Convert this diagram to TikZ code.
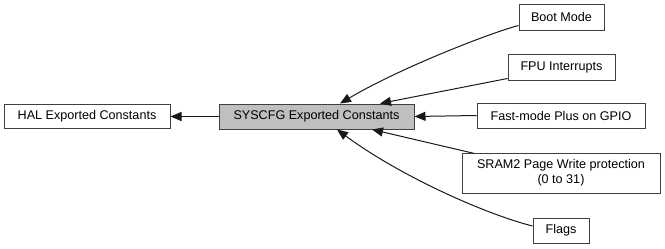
\documentclass[tikz,border=0pt]{standalone}
\usepackage{fontspec}
\setmainfont{Liberation Sans}
\usetikzlibrary{arrows.meta,calc}
\begin{document}
\begin{tikzpicture}[x=1pt,y=-1pt,
  grp/.style={draw=black!75, line width=1pt, fill=white, inner sep=0pt,
    font=\fontsize{12.6}{15}\selectfont, align=center},
  cur/.style={grp, fill=black!25},
  edge/.style={draw=black!90, line width=1pt,
    -{Triangle[length=11pt,width=9pt]}}]
\useasboundingbox (0,0) rectangle (665,249);

% group nodes
\node[grp, minimum width=166pt, minimum height=24pt] (hal) at (87,116.5) {HAL Exported Constants};
\node[cur, minimum width=195pt, minimum height=25pt] (sys) at (316.5,116.5) {SYSCFG Exported Constants};
\node[grp, minimum width=85pt, minimum height=26pt] (boot) at (561.5,17) {Boot Mode};
\node[grp, minimum width=107pt, minimum height=26pt] (fpu) at (561.5,67) {FPU Interrupts};
\node[grp, minimum width=168pt, minimum height=25pt] (fast) at (561,115.5) {Fast-mode Plus on GPIO};
\node[grp, minimum width=198pt, minimum height=40pt] (sram) at (561,173) {SRAM2 Page Write protection\\(0 to 31)};
\node[grp, minimum width=56pt, minimum height=25pt] (flags) at (561,230.5) {Flags};

% dependency edges
\draw[edge] (sys.west) -- (hal.east);
\draw[edge] (fast.west) -- (sys.east);
\draw[edge] ($(boot.south west)+(0,-5)$) .. controls (490,33) and (400,68) .. ($(sys.north)+(23.5,0)$);
\draw[edge] ($(fpu.south west)+(0,-2)$) -- ($(sys.north)+(63.5,0)$);
\draw[edge] ($(sram.north west)+(13,1)$) -- ($(sys.south)+(55.5,0)$);
\draw[edge] ($(flags.west)+(0,-4.5)$) .. controls (485,214) and (400,176) .. ($(sys.south)+(20.5,0)$);
\end{tikzpicture}
\end{document}
